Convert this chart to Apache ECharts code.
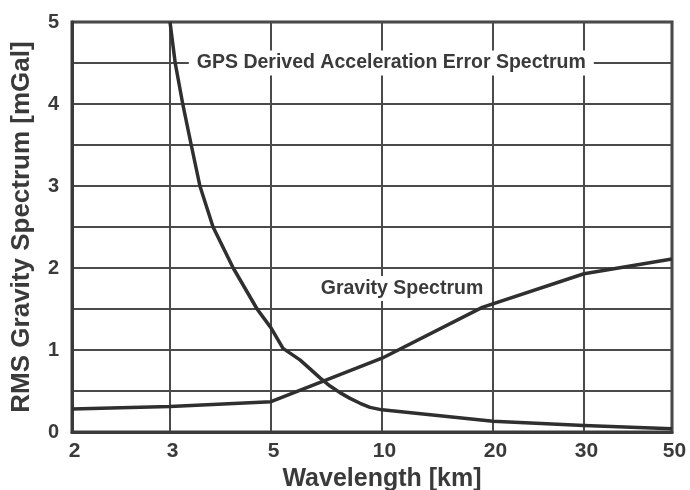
<!DOCTYPE html>
<html>
<head>
<meta charset="utf-8">
<script src="https://cdn.jsdelivr.net/npm/echarts@6/dist/echarts.min.js"></script>
<style>
  html, body { margin: 0; padding: 0; background: #ffffff; }
  #chart { width: 690px; height: 490px; }
</style>
</head>
<body>
<div id="chart"></div>
<script>
// Wavelength ticks [km] and where each sits along the horizontal axis (axis units)
const wavelengthTicks = [2, 3, 5, 10, 20, 30, 50];
const tickStops = [0, 98, 199, 310, 421, 512, 600];

// Gravity spectrum [mGal] vs wavelength [km]
const gravityKm  = [2, 3, 5, 10, 18.7, 30, 50];
const gravityVal = [0.28, 0.31, 0.37, 0.90, 1.52, 1.93, 2.11];

// GPS derived acceleration error spectrum [mGal] vs wavelength [km]
const gpsKm  = [3, 3.08, 3.2, 3.34, 3.49, 3.73, 4.13, 4.66, 5, 5.39, 5.99, 6.38, 6.79, 7.23, 7.69, 8.19, 8.72, 9.28, 10, 20, 30, 50];
const gpsVal = [5.0, 4.5, 4.0, 3.5, 3.0, 2.5, 2.0, 1.5, 1.27, 1.02, 0.88, 0.77, 0.66, 0.56, 0.48, 0.41, 0.35, 0.30, 0.27, 0.13, 0.08, 0.04];

// Curve labels: [wavelength km, mGal, text]
const gpsLabel = [10.6, 4.5, 'GPS Derived Acceleration Error Spectrum'];
const gravityLabel = [11.33, 1.75, 'Gravity Spectrum'];

// Piecewise-logarithmic placement between neighbouring wavelength ticks
function axisPos(km) {
  for (let i = 0; i < wavelengthTicks.length - 1; i++) {
    const a = wavelengthTicks[i], b = wavelengthTicks[i + 1];
    if (km <= b || i === wavelengthTicks.length - 2) {
      const f = Math.log(km / a) / Math.log(b / a);
      return tickStops[i] + (tickStops[i + 1] - tickStops[i]) * f;
    }
  }
}

const INK = '#3a3a3a';
const LINE = '#2f2f2f';
const FONT = '"Liberation Sans", Arial, sans-serif';

const gravityData = gravityKm.map((k, i) => [axisPos(k), gravityVal[i]]);
const gpsData = gpsKm.map((k, i) => [axisPos(k), gpsVal[i]]);

function curveLabel(spec, padding) {
  return {
    symbol: 'circle',
    symbolSize: 1,
    itemStyle: { color: 'rgba(0,0,0,0)' },
    silent: true,
    data: [{
      coord: [axisPos(spec[0]), spec[1]],
      value: spec[2]
    }],
    label: {
      show: true,
      position: 'inside',
      formatter: spec[2],
      color: INK,
      fontFamily: FONT,
      fontWeight: 'bold',
      fontSize: 19.5,
      backgroundColor: '#ffffff',
      padding: padding
    }
  };
}

const chart = echarts.init(document.getElementById('chart'), null, { renderer: 'canvas' });
chart.setOption({
  animation: false,
  backgroundColor: '#ffffff',
  grid: {
    left: 72, right: 18, top: 22, bottom: 58,
    outerBoundsMode: 'none',
    containLabel: false,
    show: true,
    borderColor: '#3a3a3a',
    borderWidth: 3,
    backgroundColor: 'transparent'
  },
  xAxis: {
    type: 'value',
    min: 0,
    max: tickStops[tickStops.length - 1],
    name: 'Wavelength [km]',
    nameLocation: 'middle',
    nameGap: 35,
    nameTextStyle: { color: INK, fontFamily: FONT, fontWeight: 'bold', fontSize: 25, padding: [0, 0, 0, 20] },
    axisLine: { show: true, lineStyle: { color: '#3a3a3a', width: 3 } },
    axisTick: { show: false, customValues: tickStops },
    axisLabel: {
      customValues: tickStops,
      margin: 9,
      padding: [0, 0, 0, 5],
      color: INK,
      fontFamily: FONT,
      fontWeight: 'bold',
      fontSize: 21,
      formatter: v => {
        const i = tickStops.indexOf(Math.round(v));
        return i >= 0 ? String(wavelengthTicks[i]) : '';
      }
    },
    splitLine: { show: true, lineStyle: { color: '#4a4a4a', width: 2 } }
  },
  yAxis: {
    type: 'value',
    min: 0,
    max: 5,
    interval: 0.5,
    name: 'RMS Gravity Spectrum [mGal]',
    nameLocation: 'middle',
    nameGap: 37,
    nameTextStyle: { color: INK, fontFamily: FONT, fontWeight: 'bold', fontSize: 26 },
    axisLine: { show: true, lineStyle: { color: '#3a3a3a', width: 3 } },
    axisTick: { show: false },
    axisLabel: {
      margin: 13,
      color: INK,
      fontFamily: FONT,
      fontWeight: 'bold',
      fontSize: 20,
      formatter: v => (Math.abs(v - Math.round(v)) < 1e-6 ? String(Math.round(v)) : '')
    },
    splitLine: { show: true, lineStyle: { color: '#4a4a4a', width: 2 } }
  },
  series: [
    {
      name: 'Gravity Spectrum',
      type: 'line',
      data: gravityData,
      symbol: 'none',
      smooth: false,
      lineStyle: { color: LINE, width: 3.5 },
      z: 3,
      markPoint: curveLabel(gravityLabel, [3, 4, 2, 4])
    },
    {
      name: 'GPS Derived Acceleration Error Spectrum',
      type: 'line',
      data: gpsData,
      symbol: 'none',
      smooth: false,
      lineStyle: { color: LINE, width: 3.5, join: 'round' },
      z: 3,
      markPoint: curveLabel(gpsLabel, [3, 8, 2, 8])
    }
  ]
});
</script>
</body>
</html>
